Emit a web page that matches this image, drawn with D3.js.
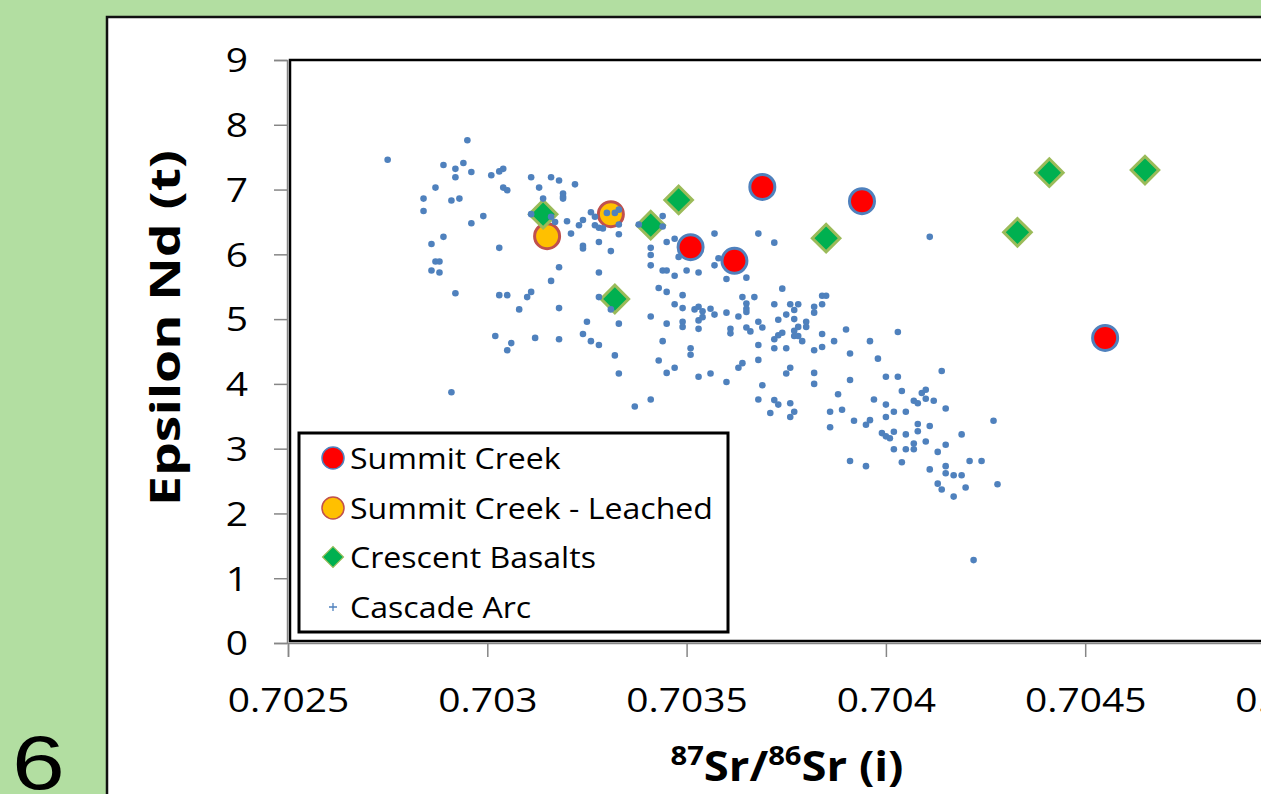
<!DOCTYPE html>
<html>
<head>
<meta charset="utf-8">
<script src="https://cdn.jsdelivr.net/npm/d3@7"></script>
<style>
  body { margin:0; background:#b2dea1; overflow:hidden; }
  text { font-family:"Open Sans", sans-serif; fill:#000; }
</style>
</head>
<body>
<svg id="chart" width="1261" height="794"></svg>
<script>
// ---- data ----
var summitX = [0.70369, 0.70394, 0.70351, 0.70362, 0.70455];
var summitY = [7.04, 6.82, 6.11, 5.90, 4.71];

var leachedX = [0.70315, 0.70331];
var leachedY = [6.28, 6.62];

var crescentX = [0.70314, 0.70332, 0.70341, 0.70348, 0.70385, 0.70433, 0.70441, 0.70465];
var crescentY = [6.62, 5.31, 6.45, 6.84, 6.25, 6.34, 7.26, 7.30];

var cascadeX = [
  0.70275,0.70295,0.70289,0.70292,0.70294,0.70296,0.70292,0.70287,0.70284,0.70284,
  0.70291,0.70293,0.70299,0.70296,0.70289,0.70286,0.70287,0.70288,0.70286,0.70288,
  0.70303,0.70301,0.70303,0.70304,0.70304,0.70305,0.70311,0.70313,0.70316,0.70318,
  0.70322,0.70319,0.70319,0.70319,0.70314,0.70311,0.70316,0.70317,0.70320,0.70321,
  0.70323,0.70324,0.70326,0.70327,0.70327,0.70328,0.70329,0.70330,0.70332,0.70333,
  0.70333,0.70333,0.70324,0.70324,0.70328,0.70331,0.70318,0.70316,0.70328,0.70292,
  0.70303,0.70305,0.70310,0.70311,0.70308,0.70318,0.70328,0.70331,0.70325,0.70333,
  0.70341,0.70302,0.70306,0.70305,0.70312,0.70318,0.70324,0.70326,0.70328,0.70332,
  0.70333,0.70291,0.70337,0.70341,0.70338,0.70344,0.70344,0.70341,0.70341,0.70341,
  0.70344,0.70345,0.70347,0.70350,0.70345,0.70347,0.70348,0.70353,0.70343,0.70345,
  0.70349,0.70347,0.70349,0.70352,0.70353,0.70354,0.70356,0.70353,0.70354,0.70357,
  0.70360,0.70363,0.70357,0.70357,0.70358,0.70360,0.70365,0.70368,0.70372,0.70364,
  0.70367,0.70365,0.70365,0.70365,0.70368,0.70369,0.70372,0.70374,0.70376,0.70378,
  0.70377,0.70382,0.70382,0.70384,0.70385,0.70384,0.70373,0.70375,0.70377,0.70378,
  0.70380,0.70380,0.70374,0.70377,0.70377,0.70378,0.70373,0.70372,0.70379,0.70384,
  0.70387,0.70390,0.70384,0.70382,0.70375,0.70372,0.70368,0.70391,0.70396,0.70398,
  0.70403,0.70376,0.70375,0.70382,0.70382,0.70391,0.70400,0.70403,0.70414,0.70388,
  0.70397,0.70404,0.70400,0.70402,0.70400,0.70407,0.70408,0.70409,0.70410,0.70410,
  0.70412,0.70415,0.70376,0.70377,0.70376,0.70372,0.70373,0.70368,0.70371,0.70386,
  0.70389,0.70392,0.70396,0.70395,0.70405,0.70386,0.70399,0.70400,0.70401,0.70402,
  0.70405,0.70408,0.70408,0.70411,0.70419,0.70427,0.70410,0.70407,0.70407,0.70405,
  0.70402,0.70413,0.70415,0.70391,0.70395,0.70404,0.70411,0.70415,0.70415,0.70417,
  0.70419,0.70421,0.70424,0.70413,0.70414,0.70420,0.70417,0.70428,0.70422,0.70411,
  0.70361,0.70361,0.70365,0.70366,0.70344,0.70343,0.70345,0.70347,0.70351,0.70351,
  0.70353,0.70356,0.70360,0.70363,0.70364,0.70368,0.70369,0.70345,0.70349,0.70349,
  0.70353
];
var cascadeY = [
  7.46,7.76,7.38,7.32,7.41,7.27,7.19,7.03,6.86,6.67,
  6.83,6.86,6.59,6.48,6.27,6.16,5.89,5.89,5.75,5.72,
  6.10,7.22,7.28,7.32,7.03,6.99,7.19,7.03,7.19,7.14,
  7.08,6.94,6.89,6.86,6.86,6.62,6.58,6.50,6.51,6.32,
  6.45,6.53,6.65,6.58,6.45,6.41,6.40,6.64,6.64,6.69,
  6.46,6.31,6.13,6.09,6.19,6.05,5.80,5.59,5.72,5.40,
  5.37,5.37,5.34,5.42,5.15,5.17,5.34,5.15,4.96,4.93,
  5.04,4.74,4.63,4.52,4.71,4.69,4.77,4.66,4.60,4.44,
  4.16,3.87,3.65,3.76,6.46,6.59,6.43,6.10,5.99,5.83,
  5.75,5.75,5.67,5.75,6.19,6.24,5.96,5.72,5.48,5.42,
  5.37,5.23,5.17,5.15,5.19,5.12,5.16,4.98,5.03,5.07,
  5.10,5.04,6.32,5.83,5.94,5.62,5.64,6.32,6.18,5.34,
  5.34,5.24,5.16,5.11,4.96,4.87,5.23,5.47,5.23,5.23,
  5.14,5.19,5.10,5.36,5.36,5.23,4.99,5.07,5.00,4.88,
  4.88,4.96,4.79,4.82,4.74,4.74,4.75,4.69,4.66,4.77,
  4.66,4.84,4.57,4.52,4.55,4.55,4.60,4.47,4.66,4.39,
  4.80,4.25,4.16,4.17,4.00,4.06,4.11,4.11,4.20,3.84,
  3.76,3.89,3.68,3.57,3.49,3.74,3.70,3.86,3.91,3.77,
  3.74,3.62,3.70,3.57,3.49,3.75,3.68,3.76,3.55,3.57,
  3.60,3.43,3.44,3.37,3.57,3.33,3.24,3.19,3.16,3.26,
  3.22,3.38,3.27,3.35,3.22,3.43,3.11,3.08,2.99,2.99,
  2.99,2.95,3.06,2.81,2.73,2.79,2.68,2.73,2.62,2.59,
  2.59,2.81,2.81,2.46,2.37,2.40,2.26,2.45,1.28,6.27,
  4.85,4.78,4.87,4.81,4.66,4.36,4.17,4.25,4.55,4.45,
  4.11,4.16,4.03,4.25,4.32,4.37,3.98,4.93,4.96,4.88,
  4.85
];

var xTicks = [0.7025, 0.703, 0.7035, 0.704, 0.7045, 0.705];
var yTicks = [0, 1, 2, 3, 4, 5, 6, 7, 8, 9];
var legendNames = ["Summit Creek", "Summit Creek - Leached", "Crescent Basalts", "Cascade Arc"];

function pairs(xs, ys) { return xs.map(function(v, i){ return {x: v, y: ys[i]}; }); }

// the slide is a bit stretched sideways, so text gets a horizontal scale
var SX = 1.18;

var svg = d3.select("#chart");

// white slide panel
svg.append("rect").attr("x", 107).attr("y", 17).attr("width", 1200).attr("height", 820)
  .attr("fill", "#fff").attr("stroke", "#111").attr("stroke-width", 2.5);

var x = d3.scaleLinear().domain([0.7025, 0.705]).range([288, 1284.5]);
var y = d3.scaleLinear().domain([0, 9]).range([643, 60]);

// axes (grey lines, outside ticks)
var xAxis = svg.append("g").attr("transform", "translate(0,643)")
  .call(d3.axisBottom(x).tickValues(xTicks).tickSize(14).tickFormat(d3.format("")));
var yAxis = svg.append("g").attr("transform", "translate(287,0)")
  .call(d3.axisLeft(y).tickValues(yTicks).tickSize(13).tickFormat(d3.format("d")));
[xAxis, yAxis].forEach(function(a){
  a.select(".domain").attr("stroke", "#868686").attr("stroke-width", 1.5);
  a.selectAll(".tick line").attr("stroke", "#868686").attr("stroke-width", 1.5);
  a.selectAll(".tick text").style("font-family", "Open Sans").attr("font-size", 33).attr("fill", "#000");
});
xAxis.selectAll(".tick text").attr("y", 0).attr("dy", 0)
  .attr("transform", "translate(0,69) scale(" + SX + ",1)");
yAxis.selectAll(".tick text").attr("x", -39 / SX).attr("dy", "0.36em")
  .attr("transform", "scale(" + SX + ",1)");

// plot area border
svg.append("rect").attr("x", x(0.7025) + 2).attr("y", y(9)).attr("width", 1100).attr("height", y(0) - y(9) - 2)
  .attr("fill", "none").attr("stroke", "#000").attr("stroke-width", 2.5);

// series
svg.append("g").selectAll("circle").data(pairs(summitX, summitY)).join("circle")
  .attr("cx", function(d){ return x(d.x); }).attr("cy", function(d){ return y(d.y); })
  .attr("r", 12.5).attr("fill", "#ff0000").attr("stroke", "#4f81bd").attr("stroke-width", 3);

svg.append("g").selectAll("circle").data(pairs(leachedX, leachedY)).join("circle")
  .attr("cx", function(d){ return x(d.x); }).attr("cy", function(d){ return y(d.y); })
  .attr("r", 12.5).attr("fill", "#ffc000").attr("stroke", "#c0504d").attr("stroke-width", 3);

var diamond = d3.symbol().type(d3.symbolSquare).size(380);
svg.append("g").selectAll("path").data(pairs(crescentX, crescentY)).join("path")
  .attr("d", diamond)
  .attr("transform", function(d){ return "translate(" + x(d.x) + "," + y(d.y) + ") rotate(45)"; })
  .attr("fill", "#00b050").attr("stroke", "#9bbb59").attr("stroke-width", 3);

svg.append("g").selectAll("circle").data(pairs(cascadeX, cascadeY)).join("circle")
  .attr("cx", function(d){ return x(d.x); }).attr("cy", function(d){ return y(d.y); })
  .attr("r", 3.3).attr("fill", "#4f81bd");

// legend
var lg = svg.append("g");
lg.append("rect").attr("x", 299).attr("y", 433).attr("width", 429).attr("height", 199)
  .attr("fill", "#fff").attr("stroke", "#000").attr("stroke-width", 3);
var rows = [458, 508, 557, 607];
lg.append("circle").attr("cx", 333).attr("cy", rows[0]).attr("r", 11)
  .attr("fill", "#ff0000").attr("stroke", "#4f81bd").attr("stroke-width", 1.5);
lg.append("circle").attr("cx", 333).attr("cy", rows[1]).attr("r", 11)
  .attr("fill", "#ffc000").attr("stroke", "#c0504d").attr("stroke-width", 1.5);
lg.append("path").attr("d", d3.symbol().type(d3.symbolSquare).size(220))
  .attr("transform", "translate(333," + rows[2] + ") rotate(45)")
  .attr("fill", "#00b050").attr("stroke", "#9bbb59").attr("stroke-width", 1.2);
lg.append("path").attr("d", "M329," + rows[3] + "h8M333," + (rows[3] - 4) + "v8")
  .attr("stroke", "#4f81bd").attr("stroke-width", 1.3);
lg.selectAll("text").data(legendNames).join("text")
  .attr("transform", function(d, i){ return "translate(350," + (rows[i] + 11) + ") scale(1.07,1)"; })
  .attr("font-size", 30).text(function(d){ return d; });

// axis titles
svg.append("text").attr("transform", "translate(180,328) rotate(-90)")
  .attr("text-anchor", "middle").attr("font-size", 42).attr("font-weight", "bold")
  .attr("textLength", 356).attr("lengthAdjust", "spacingAndGlyphs")
  .text("Epsilon Nd (t)");

var xt = svg.append("text").attr("transform", "translate(787,781) scale(1.08,1)").attr("text-anchor", "middle")
  .attr("font-size", 42).attr("font-weight", "bold");
xt.append("tspan").attr("font-size", 27).attr("dy", -16).text("87");
xt.append("tspan").attr("dy", 16).text("Sr/");
xt.append("tspan").attr("font-size", 27).attr("dy", -16).text("86");
xt.append("tspan").attr("dy", 16).text("Sr (i)");

// slide number
svg.append("text").attr("transform", "translate(12,789) scale(1.25,1)")
  .style("font-family", "Liberation Sans, Arial").attr("font-size", 76).text("6");
</script>
</body>
</html>
